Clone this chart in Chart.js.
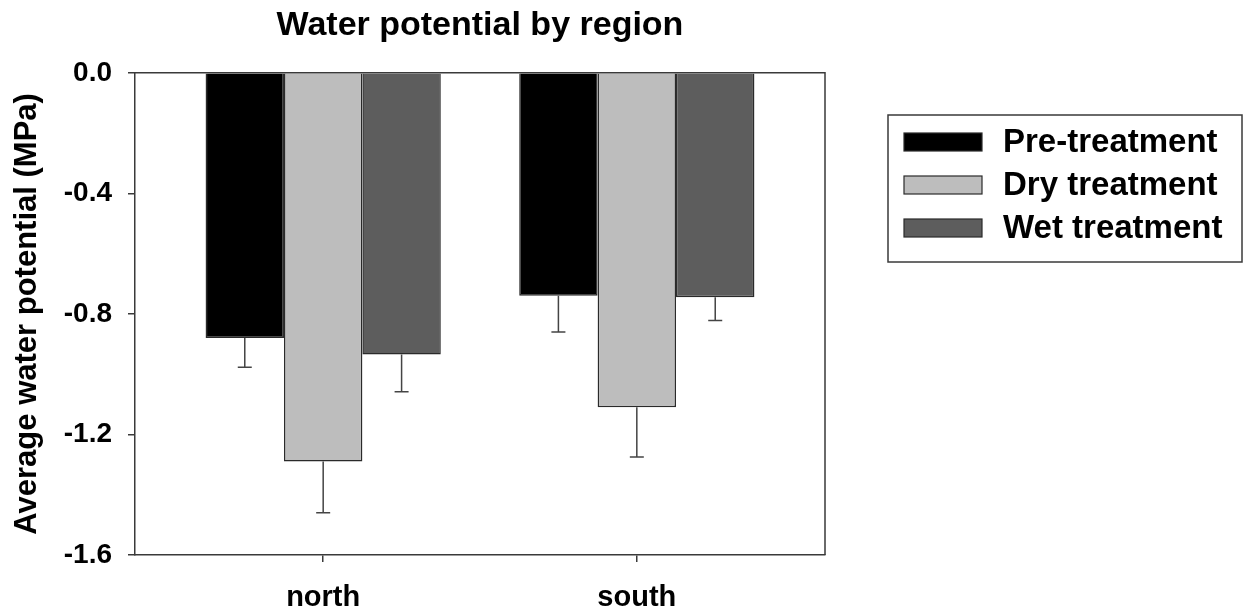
<!DOCTYPE html>
<html>
<head>
<meta charset="utf-8">
<title>Water potential by region</title>
<script src="https://cdn.jsdelivr.net/npm/chart.js@4/dist/chart.umd.min.js"></script>
<style>
  html, body { margin: 0; padding: 0; background: #fff; }
  #wrap { width: 1245px; height: 611px; }
</style>
</head>
<body>
<div id="wrap"><canvas id="c" width="1245" height="611"></canvas></div>
<script>
// Regions and treatments
const regions = ['north', 'south'];
const seriesNames = ['Pre-treatment', 'Dry treatment', 'Wet treatment'];

// Mean water potential (MPa) per region
const preTreatment = [-0.88, -0.74];
const dryTreatment = [-1.29, -1.11];
const wetTreatment = [-0.935, -0.745];

// Standard errors (drawn downward from each bar)
const preErr = [0.097, 0.12];
const dryErr = [0.17, 0.165];
const wetErr = [0.123, 0.077];

// Y axis ticks
const yTicks = [0.0, -0.4, -0.8, -1.2, -1.6];

const FONT = "'Liberation Sans', Arial, Helvetica, sans-serif";
const LINE = '#3a3a3a';

// Horizontal layout in bar-width units: margin, 3 bars, gap, 3 bars, margin
const X_MIN = 0, X_MAX = 8.8, FIRST_CENTER = 2.4, GROUP_STEP = 4;
const groupCenter = i => FIRST_CENTER + i * GROUP_STEP;

const seriesValues = [preTreatment, dryTreatment, wetTreatment];
const seriesErrors = [preErr, dryErr, wetErr];
const fills = ['#000000', '#bdbdbd', '#5d5d5d'];

const datasets = seriesNames.map((name, s) => ({
  label: name,
  data: seriesValues[s].map((v, i) => ({ x: groupCenter(i), y: v })),
  errors: seriesErrors[s],
  backgroundColor: fills[s],
  borderColor: '#2a2a2a',
  borderWidth: 1.5,
  categoryPercentage: 0.75,
  barPercentage: 1.0
}));

// One-sided (downward) error bars with caps
const errorBars = {
  id: 'errorBars',
  afterDatasetsDraw(chart) {
    const ctx = chart.ctx;
    const yScale = chart.scales.y;
    ctx.save();
    ctx.strokeStyle = '#444';
    ctx.lineWidth = 1.5;
    chart.data.datasets.forEach((ds, di) => {
      const meta = chart.getDatasetMeta(di);
      meta.data.forEach((bar, i) => {
        const v = ds.data[i].y;
        const yEnd = yScale.getPixelForValue(v - ds.errors[i]);
        ctx.beginPath();
        ctx.moveTo(bar.x, bar.y);
        ctx.lineTo(bar.x, yEnd);
        ctx.moveTo(bar.x - 7, yEnd);
        ctx.lineTo(bar.x + 7, yEnd);
        ctx.stroke();
      });
    });
    ctx.restore();
  }
};

// Closed frame round the plot area
const frame = {
  id: 'frame',
  afterDatasetsDraw(chart) {
    const { left, top, right, bottom } = chart.chartArea;
    const ctx = chart.ctx;
    ctx.save();
    ctx.strokeStyle = LINE;
    ctx.lineWidth = 1.5;
    ctx.beginPath();
    ctx.moveTo(left, top);
    ctx.lineTo(right, top);
    ctx.lineTo(right, bottom);
    ctx.stroke();
    ctx.restore();
  }
};

// Boxed legend to the right of the plot
const boxedLegend = {
  id: 'boxedLegend',
  afterDraw(chart) {
    const ctx = chart.ctx;
    const bx = 888, by = 115, bw = 354, bh = 147;
    ctx.save();
    ctx.strokeStyle = LINE;
    ctx.lineWidth = 1.5;
    ctx.strokeRect(bx, by, bw, bh);
    ctx.font = 'bold 33px ' + FONT;
    ctx.textBaseline = 'middle';
    ctx.textAlign = 'left';
    chart.data.datasets.forEach((ds, i) => {
      const cy = 142 + i * 43;
      ctx.fillStyle = ds.backgroundColor;
      ctx.fillRect(904, cy - 9, 78, 18);
      ctx.strokeStyle = ds.borderColor;
      ctx.lineWidth = 1.2;
      ctx.strokeRect(904, cy - 9, 78, 18);
      ctx.fillStyle = '#000';
      ctx.fillText(ds.label, 1003, cy + 1);
    });
    ctx.restore();
  }
};

new Chart(document.getElementById('c'), {
  type: 'bar',
  data: { datasets },
  plugins: [errorBars, frame, boxedLegend],
  options: {
    responsive: false,
    animation: false,
    layout: { padding: { left: 0, right: 420, top: 0, bottom: 0 } },
    plugins: {
      legend: { display: false },
      tooltip: { enabled: false },
      title: {
        display: true,
        text: 'Water potential by region',
        fullSize: false,
        color: '#000',
        font: { family: FONT, size: 34, weight: 'bold' },
        padding: { top: 5, bottom: 27 }
      }
    },
    scales: {
      x: {
        type: 'linear',
        min: X_MIN,
        max: X_MAX,
        offset: false,
        afterBuildTicks(scale) {
          scale.ticks = regions.map((_, i) => ({ value: groupCenter(i) }));
        },
        afterFit(scale) { scale.height = 56; },
        ticks: {
          autoSkip: false,
          maxRotation: 0,
          padding: 19,
          color: '#000',
          font: { family: FONT, size: 29, weight: 'bold' },
          callback: (value, index) => regions[index]
        },
        grid: { display: true, offset: false, drawOnChartArea: false, tickLength: 7, color: LINE, lineWidth: 1.5 },
        border: { display: true, color: LINE, width: 1.5 }
      },
      y: {
        min: -1.6,
        max: 0,
        afterBuildTicks(scale) {
          scale.ticks = yTicks.map(v => ({ value: v }));
        },
        afterFit(scale) { scale.width = 135; },
        ticks: {
          padding: 16,
          color: '#000',
          font: { family: FONT, size: 28, weight: 'bold' },
          callback: v => Number(v).toFixed(1)
        },
        grid: { display: true, drawOnChartArea: false, tickLength: 7, color: LINE, lineWidth: 1.5 },
        border: { display: true, color: LINE, width: 1.5 },
        title: {
          display: true,
          text: 'Average water potential (MPa)',
          color: '#000',
          font: { family: FONT, size: 31, weight: 'bold' },
          padding: { top: 9, bottom: 0 }
        }
      }
    }
  }
});
</script>
</body>
</html>
